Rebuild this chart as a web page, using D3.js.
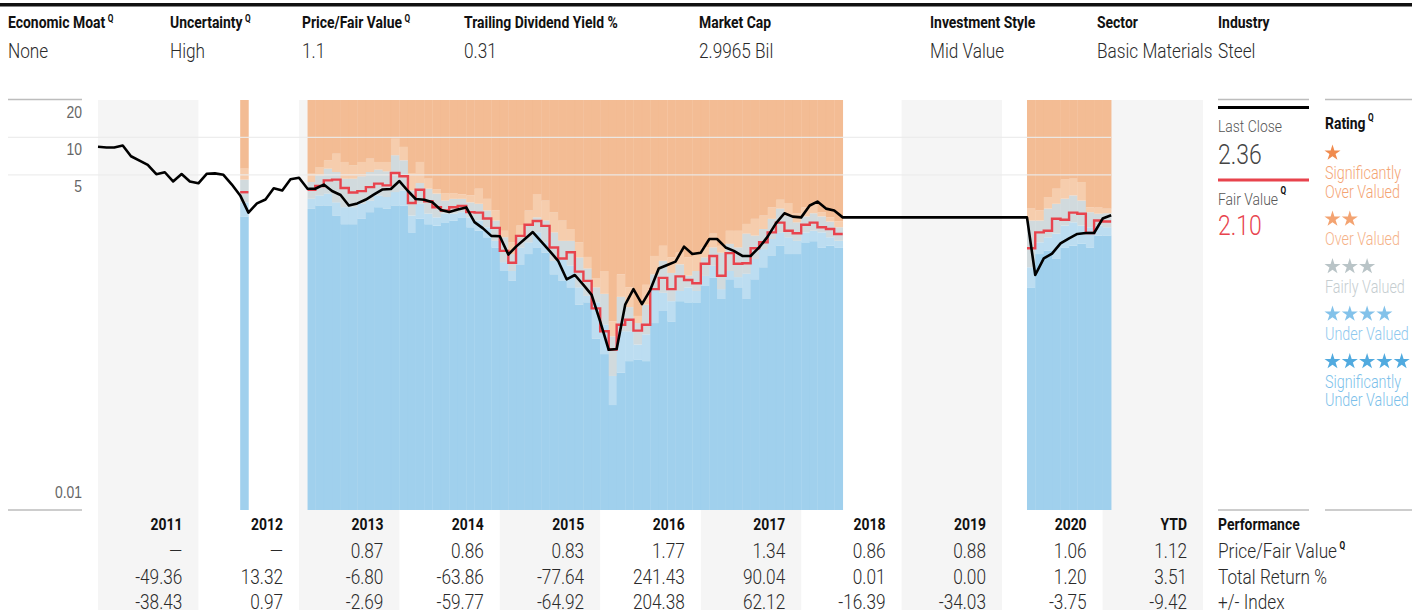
<!DOCTYPE html>
<html lang="en">
<head>
<meta charset="UTF-8">
<title>Price vs Fair Value</title>
<script src="https://cdn.jsdelivr.net/npm/d3@7"></script>
<style>
  body { margin: 0; background: #fff; }
  svg { display: block; font-family: "Roboto", "Liberation Sans", sans-serif; }
</style>
</head>
<body>
<script>
// ---- data ----
const headerLabels = ["Economic Moat", "Uncertainty", "Price/Fair Value", "Trailing Dividend Yield %", "Market Cap", "Investment Style", "Sector", "Industry"];
const headerHasQ = [true, true, true, false, false, false, false, false];
const headerValues = ["None", "High", "1.1", "0.31", "2.9965 Bil", "Mid Value", "Basic Materials", "Steel"];

// monthly close, first value = Jan 2011
const closeStart = "2011-01";
const closePrices = [
  8.4, 8.3, 8.3, 8.6, 7.05, 6.5, 6.0, 5.05, 5.24, 4.42, 5.07, 4.42,
  4.27, 5.1, 5.13, 5.0, 4.19, 3.41, 2.48, 2.94, 3.16, 3.89, 3.74, 4.6,
  4.73, 3.86, 3.86, 4.17, 3.70, 3.44, 2.83, 2.94, 3.16, 3.47, 3.81, 3.84,
  4.45, 3.70, 3.19, 3.15, 3.0, 2.60, 2.51, 2.63, 2.73, 2.08, 1.85, 1.61,
  1.60, 1.14, 1.32, 1.51, 1.73, 1.45, 1.22, 1.015, 0.72, 0.78, 0.65, 0.54,
  0.33, 0.195, 0.198, 0.45, 0.60, 0.455, 0.59, 0.88, 0.94, 1.0, 1.32, 1.15,
  1.18, 1.52, 1.52, 1.30, 1.22, 1.11, 1.11, 1.30, 1.59, 2.03, 2.45, 2.30,
  2.27, 2.83, 3.04, 2.67, 2.58, 2.27, 2.27, 2.27, 2.27, 2.27, 2.27, 2.27,
  2.27, 2.27, 2.27, 2.27, 2.27, 2.27, 2.27, 2.27, 2.27, 2.27, 2.27, 2.27,
  2.27, 2.27, 2.27, 2.27, 0.78, 1.06, 1.16, 1.40, 1.54, 1.67, 1.70, 1.70,
  2.22, 2.36
];

const ratingMonths = [
  "2012-06",
  "2013-02", "2013-03", "2013-04", "2013-05", "2013-06", "2013-07", "2013-08", "2013-09", "2013-10", "2013-11", "2013-12",
  "2014-01", "2014-02", "2014-03", "2014-04", "2014-05", "2014-06", "2014-07", "2014-08", "2014-09", "2014-10", "2014-11", "2014-12",
  "2015-01", "2015-02", "2015-03", "2015-04", "2015-05", "2015-06", "2015-07", "2015-08", "2015-09", "2015-10", "2015-11", "2015-12",
  "2016-01", "2016-02", "2016-03", "2016-04", "2016-05", "2016-06", "2016-07", "2016-08", "2016-09", "2016-10", "2016-11", "2016-12",
  "2017-01", "2017-02", "2017-03", "2017-04", "2017-05", "2017-06", "2017-07", "2017-08", "2017-09", "2017-10", "2017-11", "2017-12",
  "2018-01", "2018-02", "2018-03", "2018-04", "2018-05",
  "2020-04", "2020-05", "2020-06", "2020-07", "2020-08", "2020-09", "2020-10", "2020-11", "2020-12", "2021-01"
];

const fairValue = [
  3.62,
  3.79, 4.06, 4.51, 4.57, 3.91, 3.60, 3.69, 3.98, 4.24, 4.11, 5.17,
  4.86, 2.96, 3.79, 3.06, 2.74, 2.58, 2.74, 2.81, 2.50, 2.48, 2.22, 1.87,
  1.22, 0.98, 1.61, 1.98, 2.12, 1.94, 1.30, 1.06, 1.19, 0.83, 0.70, 0.42,
  0.275, 0.196, 0.31, 0.34, 0.278, 0.31, 0.60, 0.74, 0.60, 0.76, 0.71, 0.67,
  0.96, 1.11, 0.77, 1.17, 0.96, 0.97, 1.28, 1.43, 1.72, 2.06, 1.77, 1.69,
  1.98, 2.06, 1.89, 1.83, 1.67,
  1.28, 1.72, 1.77, 2.21, 2.17, 2.48, 2.43, 1.70, 2.14, 2.10
];

// upper edge of each star band (5 stars below star5Top, ... 1 star above star2Top)
const star5Top = [
  2.31,
  2.66, 2.83, 2.83, 2.35, 2.0, 2.0, 2.21, 2.5, 2.74, 2.67, 2.83,
  2.83, 1.72, 2.21, 2.0, 1.95, 2.07, 2.14, 2.27, 1.89, 1.77, 1.57, 1.30,
  0.84, 0.70, 0.95, 1.15, 1.30, 1.18, 0.79, 0.70, 0.62, 0.45, 0.47, 0.24,
  0.18, 0.07, 0.128, 0.158, 0.163, 0.158, 0.32, 0.40, 0.33, 0.48, 0.47, 0.47,
  0.637, 0.74, 0.50, 0.72, 0.62, 0.5, 0.72, 0.9, 1.11, 1.34, 1.15, 1.15,
  1.43, 1.46, 1.30, 1.34, 1.30,
  0.62, 1.15, 1.22, 1.05, 1.30, 1.34, 1.39, 1.30, 1.62, 1.62
];
const star4Top = [
  3.0,
  3.21, 3.41, 3.53, 3.0, 2.74, 2.74, 2.92, 3.1, 3.41, 3.31, 3.63,
  3.74, 2.35, 2.92, 2.43, 2.27, 2.43, 2.43, 2.5, 2.27, 2.14, 1.89, 1.47,
  0.99, 0.84, 1.30, 1.43, 1.72, 1.43, 1.015, 1.05, 0.93, 0.62, 0.53, 0.47,
  0.31, 0.12, 0.275, 0.275, 0.215, 0.26, 0.60, 0.56, 0.48, 0.58, 0.62, 0.58,
  0.767, 0.925, 0.60, 0.84, 0.75, 0.8, 1.05, 1.26, 1.52, 1.72, 1.57, 1.47,
  1.72, 1.77, 1.72, 1.57, 1.47,
  0.9, 1.43, 1.57, 1.68, 1.95, 2.07, 1.95, 1.89, 1.95, 1.89
];
const star3Top = [
  4.57,
  4.37, 4.95, 5.6, 5.26, 4.65, 4.65, 4.86, 5.26, 5.5, 5.33, 7.18,
  6.54, 3.74, 4.29, 3.86, 3.53, 3.1, 3.2, 3.2, 3.0, 2.92, 2.58, 2.14,
  1.57, 1.15, 1.57, 2.01, 2.27, 2.14, 1.72, 1.47, 1.47, 1.08, 0.88, 0.62,
  0.55, 0.25, 0.52, 0.43, 0.32, 0.45, 0.79, 1.015, 0.81, 0.95, 0.77, 0.84,
  1.08, 1.30, 1.18, 1.39, 1.30, 1.68, 1.62, 1.83, 2.21, 2.67, 2.35, 2.07,
  2.31, 2.45, 2.31, 2.10, 1.89,
  2.14, 2.14, 2.67, 2.92, 3.21, 3.41, 3.10, 2.5, 2.43, 2.45
];
const star2Top = [
  5.6,
  5.1, 5.77, 6.54, 7.4, 6.34, 5.96, 6.34, 6.75, 6.34, 6.34, 9.75,
  8.38, 5.1, 6.34, 4.65, 3.8, 3.53, 3.53, 3.48, 3.41, 3.86, 3.2, 2.58,
  1.77, 1.43, 1.95, 2.58, 3.5, 3.1, 2.5, 2.14, 1.83, 1.43, 1.09, 0.73,
  0.84, 0.33, 0.79, 0.62, 0.365, 0.65, 1.11, 1.34, 1.08, 1.18, 1.08, 1.15,
  1.30, 1.68, 1.34, 1.77, 1.77, 2.01, 2.21, 2.35, 2.74, 3.15, 2.96, 2.45,
  2.74, 2.92, 2.5, 2.27, 2.11,
  2.67, 2.58, 3.31, 3.86, 4.57, 4.65, 4.37, 2.74, 2.72, 2.67
];

const yTicks = [20, 10, 5, 0.01];

const tableYears = ["2011", "2012", "2013", "2014", "2015", "2016", "2017", "2018", "2019", "2020", "YTD"];
const priceFairValue = ["\u2014", "\u2014", "0.87", "0.86", "0.83", "1.77", "1.34", "0.86", "0.88", "1.06", "1.12"];
const totalReturn = ["-49.36", "13.32", "-6.80", "-63.86", "-77.64", "241.43", "90.04", "0.01", "0.00", "1.20", "3.51"];
const plusMinusIndex = ["-38.43", "0.97", "-2.69", "-59.77", "-64.92", "204.38", "62.12", "-16.39", "-34.03", "-3.75", "-9.42"];
const tableRowLabels = ["Price/Fair Value", "Total Return %", "+/- Index"];

const lastCloseText = "2.36";
const fairValueText = "2.10";
const ratingStars = [1, 2, 3, 4, 5];
const ratingLabels = [["Significantly", "Over Valued"], ["Over Valued"], ["Fairly Valued"], ["Under Valued"], ["Significantly", "Under Valued"]];

// ---- layout ----
const width = 1412, height = 610;
const SX = 0.82; // condensed look
const headerX = [8, 170, 302, 464, 699, 930, 1097, 1218];
const bandColors = ["#9bceec", "#b8dbf0", "#cfd8db", "#f6caa9", "#f2b88e"];
const starColors = ["#f08b4e", "#f3a371", "#b9c4c7", "#83c2ea", "#51aadf"];
const starTextColors = ["#f4a473", "#f5b288", "#c5cdd0", "#8fc8ee", "#7cbfea"];
const fvRed = "#e8434d";

const svg = d3.select("body").append("svg")
  .attr("width", width)
  .attr("height", height)
  .attr("viewBox", [0, 0, width, height]);

const parseMonth = d3.utcParse("%Y-%m");

const x = d3.scaleUtc()
  .domain([parseMonth("2011-01"), parseMonth("2022-01")])
  .range([98, 1203]);

const y = d3.scaleLog()
  .domain([0.01, 20])
  .range([510, 100]);

// condensed text helper
const label = (parent, px, py, str, size, opts = {}) => parent.append("text")
  .attr("transform", `translate(${px},${py}) scale(${SX},1)`)
  .attr("font-size", size)
  .attr("font-weight", opts.weight || 300)
  .attr("fill", opts.fill || "#2a2a2a")
  .attr("text-anchor", opts.anchor || "start")
  .text(str);

const addQ = (sel, dy = -7) => sel.append("tspan")
  .attr("dx", 3).attr("dy", dy)
  .attr("font-size", 10).attr("font-weight", "bold")
  .attr("fill", "#111")
  .text("Q");

// ---- header ----
svg.append("rect").attr("x", 0).attr("y", 3).attr("width", width).attr("height", 3.5).attr("fill", "#111");

headerLabels.forEach((lab, i) => {
  const t = label(svg, headerX[i], 28, lab, 17, { weight: "bold", fill: "#111" });
  if (headerHasQ[i]) addQ(t, -6);
  label(svg, headerX[i], 57.5, headerValues[i], 21, { fill: "#2a2a2a" });
});

// ---- column backgrounds ----
const colStart = i => x(parseMonth(`${2011 + i}-01`));
svg.append("g").selectAll("rect")
  .data(tableYears.map((d, i) => i).filter(i => i % 2 === 0))
  .join("rect")
  .attr("x", i => colStart(i))
  .attr("width", i => colStart(i + 1) - colStart(i))
  .attr("y", y(20))
  .attr("height", height - y(20))
  .attr("fill", "#f5f5f5");

// ---- star band bars ----
const ratingRows = ratingMonths.map((m, i) => {
  const d = parseMonth(m);
  return {
    date: d,
    next: d3.utcMonth.offset(d, 1),
    edges: [0.01, star5Top[i], star4Top[i], star3Top[i], star2Top[i], 20],
    fv: fairValue[i]
  };
});

const barG = svg.append("g");
ratingRows.forEach(r => {
  for (let k = 0; k < 5; k++) {
    barG.append("rect")
      .attr("x", x(r.date))
      .attr("width", x(r.next) - x(r.date) + 0.3)
      .attr("y", y(r.edges[k + 1]))
      .attr("height", y(r.edges[k]) - y(r.edges[k + 1]))
      .attr("fill", bandColors[k])
      .attr("fill-opacity", 0.95);
  }
});

// ---- y axis and grid ----
const gridEnd = x(parseMonth("2021-02"));
svg.append("g").selectAll("line")
  .data([10, 5])
  .join("line")
  .attr("x1", 8).attr("x2", gridEnd)
  .attr("y1", d => y(d)).attr("y2", d => y(d))
  .attr("stroke", "#ebebeb").attr("stroke-opacity", 0.9).attr("stroke-width", 1.3);

svg.append("line").attr("x1", 8).attr("x2", 82).attr("y1", y(20) - 0.5).attr("y2", y(20) - 0.5)
  .attr("stroke", "#bdbdbd").attr("stroke-width", 1.3);
svg.append("line").attr("x1", 8).attr("x2", 82).attr("y1", y(0.01)).attr("y2", y(0.01))
  .attr("stroke", "#bdbdbd").attr("stroke-width", 1.3);

const yAxis = svg.append("g")
  .attr("transform", "translate(82,0)")
  .call(d3.axisLeft(y).tickValues(yTicks).tickFormat(d => String(d)).tickSize(0).tickPadding(0));
yAxis.select(".domain").remove();
yAxis.selectAll("text")
  .attr("dy", null)
  .attr("x", null)
  .attr("y", null)
  .attr("transform", d => `translate(0,${d === 0.01 ? -13 : 17}) scale(${SX},1)`)
  .attr("font-family", null)
  .attr("font-size", 17)
  .attr("font-weight", 300)
  .attr("fill", "#666");

// ---- fair value step line ----
const runs = [];
ratingRows.forEach((r, i) => {
  const prev = ratingRows[i - 1];
  if (!prev || +prev.next !== +r.date) runs.push([]);
  runs[runs.length - 1].push(r);
});

const fvLine = d3.line()
  .x(d => x(d.date))
  .y(d => y(d.fv))
  .curve(d3.curveStepAfter);

svg.append("g").selectAll("path")
  .data(runs.map(run => [...run, { date: run[run.length - 1].next, fv: run[run.length - 1].fv }]))
  .join("path")
  .attr("d", fvLine)
  .attr("fill", "none")
  .attr("stroke", fvRed)
  .attr("stroke-width", 2.4);

// ---- price line ----
const closeDates = closePrices.map((v, i) => ({ date: d3.utcMonth.offset(parseMonth(closeStart), i), v }));
svg.append("path")
  .datum(closeDates)
  .attr("d", d3.line().x(d => x(d.date)).y(d => y(d.v)))
  .attr("fill", "none")
  .attr("stroke", "#000")
  .attr("stroke-width", 2.6)
  .attr("stroke-linejoin", "round");

// ---- performance table ----
const tableG = svg.append("g");
const rowY = [558, 583.5, 609];
tableYears.forEach((yr, i) => {
  const right = colStart(i + 1) - 16;
  label(tableG, right, 530, yr, 17, { weight: "bold", fill: "#111", anchor: "end" });
  [priceFairValue, totalReturn, plusMinusIndex].forEach((row, r) => {
    label(tableG, right, rowY[r], row[i], 21, { anchor: "end" });
  });
});

label(tableG, 1218, 530, "Performance", 17, { weight: "bold", fill: "#111" });
tableRowLabels.forEach((lab, r) => {
  const t = label(tableG, 1218, rowY[r], lab, 21);
  if (r === 0) addQ(t, -9);
});

[[1218, 1309], [1325, 1412]].forEach(([a, b]) => {
  svg.append("line").attr("x1", a).attr("x2", b).attr("y1", 510).attr("y2", 510)
    .attr("stroke", "#bdbdbd").attr("stroke-width", 1.3);
  svg.append("line").attr("x1", a).attr("x2", b).attr("y1", 99.5).attr("y2", 99.5)
    .attr("stroke", "#bdbdbd").attr("stroke-width", 1.3);
});

// ---- legend: last close / fair value ----
const lg = svg.append("g");
lg.append("line").attr("x1", 1218).attr("x2", 1309).attr("y1", 107.5).attr("y2", 107.5)
  .attr("stroke", "#000").attr("stroke-width", 3);
label(lg, 1218, 132, "Last Close", 17, { fill: "#555" });
label(lg, 1218, 163.5, lastCloseText, 28, { fill: "#444" });
lg.append("line").attr("x1", 1218).attr("x2", 1309).attr("y1", 180).attr("y2", 180)
  .attr("stroke", fvRed).attr("stroke-width", 3);
const fvLab = label(lg, 1218, 205, "Fair Value", 17, { fill: "#555" });
addQ(fvLab, -11);
label(lg, 1218, 234.5, fairValueText, 28, { fill: fvRed });

// ---- legend: rating ----
const rt = label(lg, 1325, 129, "Rating", 17, { weight: "bold", fill: "#111" });
addQ(rt, -8);

const star = d3.symbol(d3.symbolStar, 80);
let cy = 152;
ratingStars.forEach((n, k) => {
  d3.range(n).forEach(j => {
    lg.append("path")
      .attr("d", star)
      .attr("transform", `translate(${1332.5 + j * 17.3},${cy + 1})`)
      .attr("fill", starColors[k]);
  });
  cy += 21;
  ratingLabels[k].forEach((line, li) => {
    if (li > 0) cy += 18.5;
    label(lg, 1325, cy + 6, line, 17.5, { fill: starTextColors[k] });
  });
  cy += 26.5;
});
</script>
</body>
</html>
